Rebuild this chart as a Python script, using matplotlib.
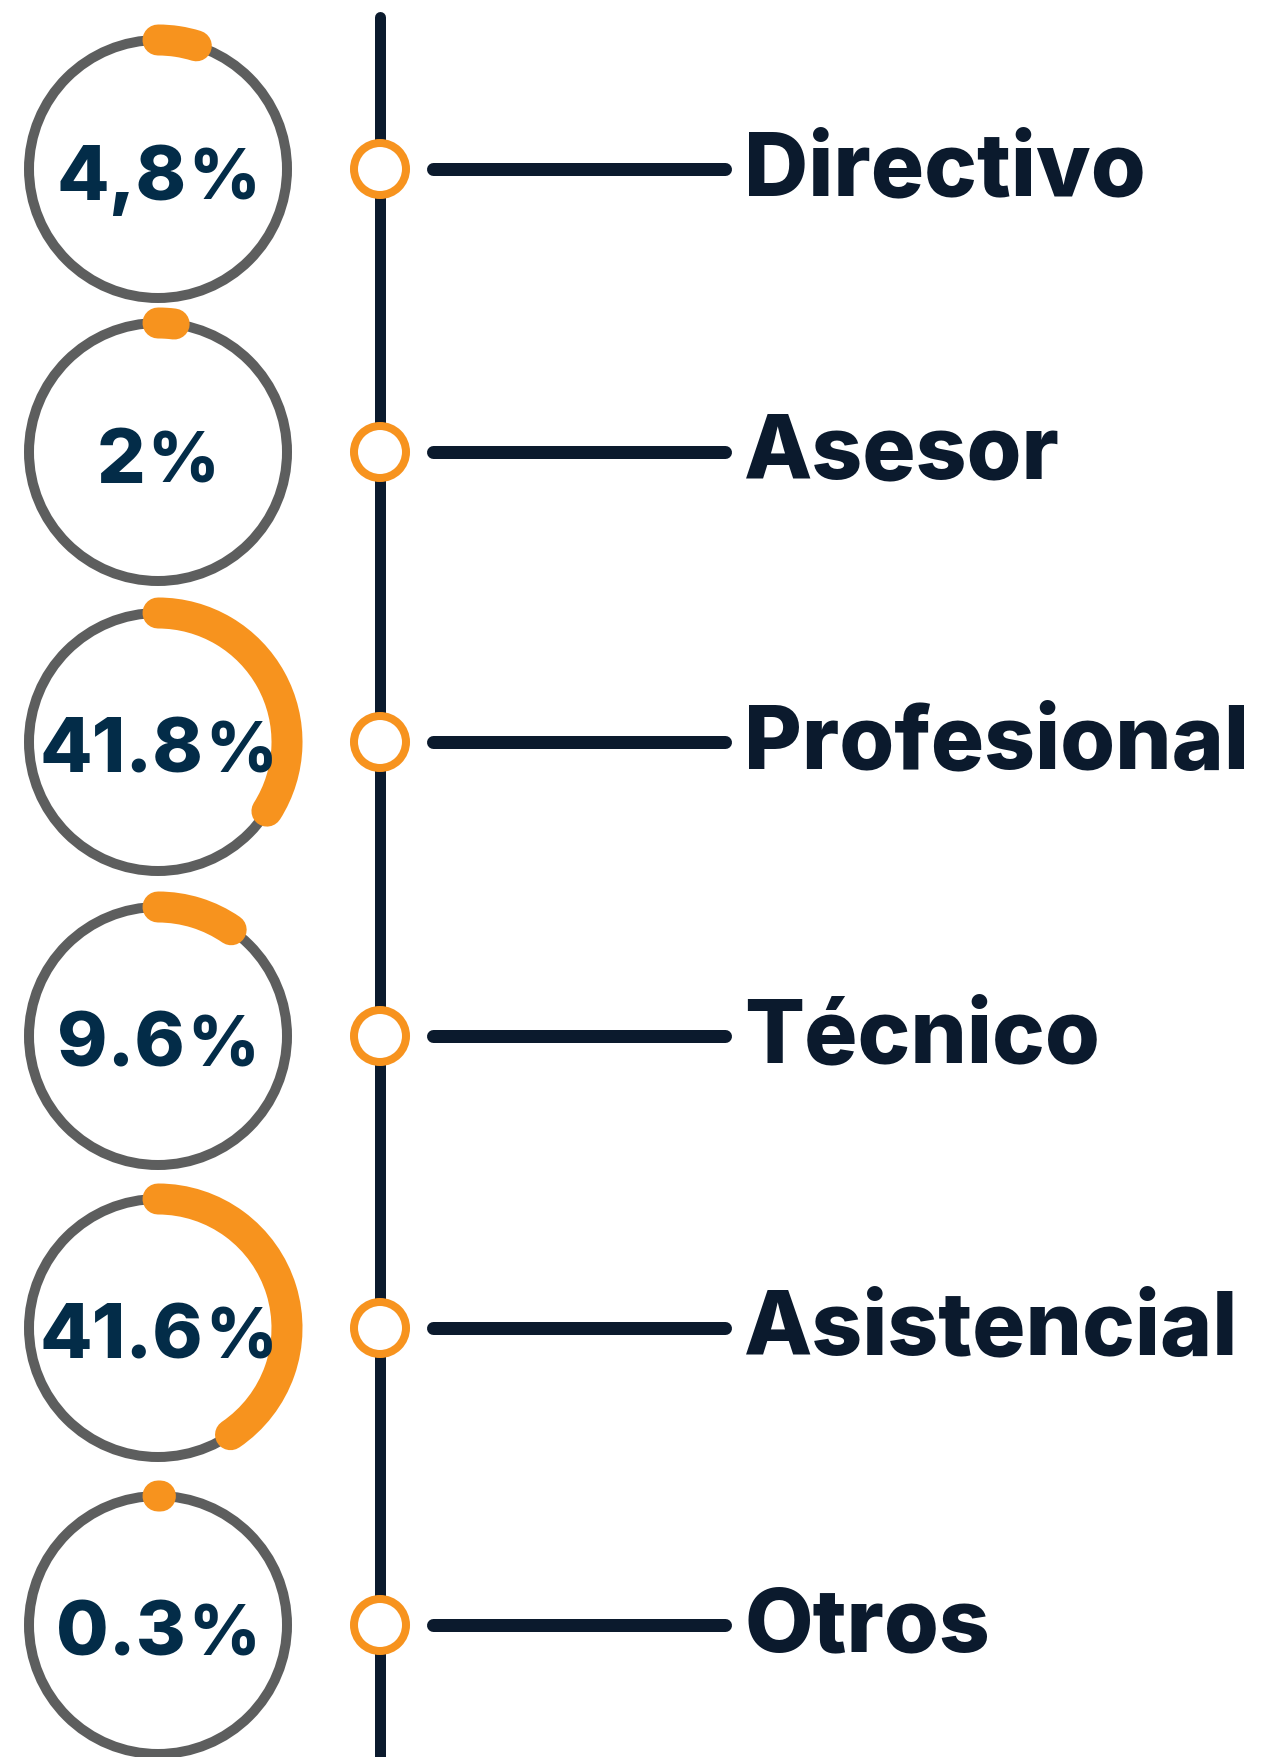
import matplotlib
matplotlib.use("Agg")
import matplotlib.pyplot as plt
from matplotlib.patches import Circle, Arc

# datos
categorias = ["Directivo", "Asesor", "Profesional", "Técnico", "Asistencial", "Otros"]
numeros = ["4,8", "2", "41.8", "9.6", "41.6", "0.3"]
# largo del arco naranja tal como se ve dibujado (%)
arco_pct = [4.8, 2.0, 34.0, 9.6, 40.5, 0.3]

W, H = 1266, 1758
fila_y = [170, 453, 743, 1037, 1329, 1626]
circ_x = 158
radio = 129
linea_x = 380

naranja = "#f7931e"
gris = "#5d5e5e"
azul = "#0b1a2d"
azul_num = "#032c48"

px = 72 / 100  # puntos por pixel a dpi 100

fig = plt.figure(figsize=(W / 100, H / 100), dpi=100)
ax = fig.add_axes([0, 0, 1, 1])
ax.set_xlim(0, W)
ax.set_ylim(H, 0)
ax.set_aspect("equal")
ax.axis("off")
renderer = fig.canvas.get_renderer()

# linea vertical
ax.plot([linea_x, linea_x], [18, H + 10], color=azul, lw=11 * px,
        solid_capstyle="round", zorder=1)

fuente = ["Inter", "DejaVu Sans"]

for i, cat in enumerate(categorias):
    y = fila_y[i]
    # anillo gris
    ax.add_patch(Circle((circ_x, y), radio, fill=False, ec=gris, lw=10 * px, zorder=2))
    # arco naranja, en sentido horario desde arriba (eje y invertido)
    grados = max(arco_pct[i] * 3.6, 0.5)
    arco = Arc((circ_x, y), 2 * radio, 2 * radio, theta1=-90, theta2=-90 + grados,
               color=naranja, lw=31 * px, zorder=3)
    arco.set_capstyle("round")
    ax.add_patch(arco)

    # numero + signo % mas chico, centrado en el circulo
    t_num = ax.text(0, y + 30, numeros[i], ha="left", va="baseline",
                    fontsize=55, fontweight="heavy", family=fuente, color=azul_num, zorder=4)
    t_pct = ax.text(0, y + 30, "%", ha="left", va="baseline",
                    fontsize=50, fontweight="heavy", family=fuente, color=azul_num, zorder=4)
    w_num = t_num.get_window_extent(renderer).width
    w_pct = t_pct.get_window_extent(renderer).width
    x0 = circ_x - (w_num + 2 + w_pct) / 2
    t_num.set_x(x0)
    t_pct.set_x(x0 + w_num + 2)

    # marcador en la linea
    ax.add_patch(Circle((linea_x, y), 26, fc="white", ec=naranja, lw=8 * px, zorder=4))
    # conector
    ax.plot([433, 725], [y, y], color=azul, lw=13 * px, solid_capstyle="round", zorder=2)
    # etiqueta
    ax.text(744, y + 25, cat, ha="left", va="baseline",
            fontsize=64, fontweight="heavy", family=fuente, color=azul, zorder=4)

fig.savefig("out.png", dpi=100, facecolor="white")
